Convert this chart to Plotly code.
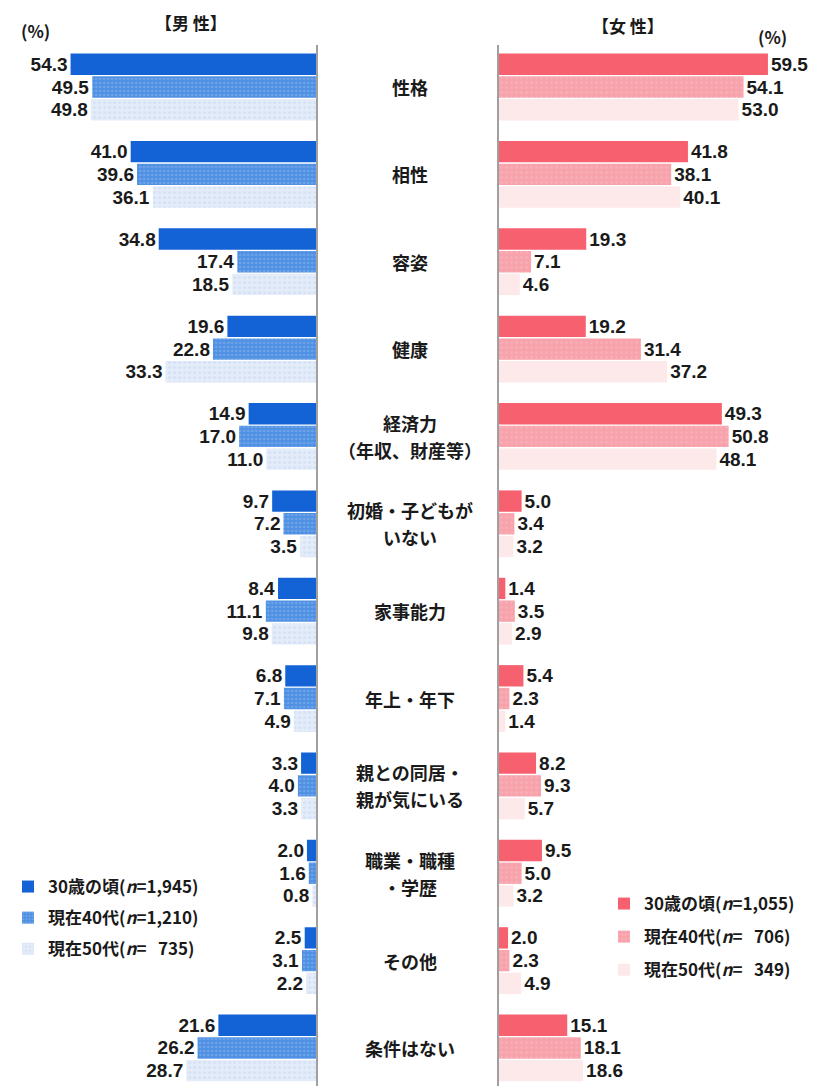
import plotly.graph_objects as go

categories = ["性格", "相性", "容姿", "健康", "経済力<br>（年収、財産等）",
              "初婚・子どもが<br>いない", "家事能力", "年上・年下",
              "親との同居・<br>親が気にいる", "職業・職種<br>・学歴", "その他", "条件はない"]

men_30 = [54.3, 41.0, 34.8, 19.6, 14.9, 9.7, 8.4, 6.8, 3.3, 2.0, 2.5, 21.6]
men_40 = [49.5, 39.6, 17.4, 22.8, 17.0, 7.2, 11.1, 7.1, 4.0, 1.6, 3.1, 26.2]
men_50 = [49.8, 36.1, 18.5, 33.3, 11.0, 3.5, 9.8, 4.9, 3.3, 0.8, 2.2, 28.7]

women_30 = [59.5, 41.8, 19.3, 19.2, 49.3, 5.0, 1.4, 5.4, 8.2, 9.5, 2.0, 15.1]
women_40 = [54.1, 38.1, 7.1, 31.4, 50.8, 3.4, 3.5, 2.3, 9.3, 5.0, 2.3, 18.1]
women_50 = [53.0, 40.1, 4.6, 37.2, 48.1, 3.2, 2.9, 1.4, 5.7, 3.2, 4.9, 18.6]

men_names = ["30歳の頃(<i>n</i>=1,945)", "現在40代(<i>n</i>=1,210)", "現在50代(<i>n</i>=   735)"]
women_names = ["30歳の頃(<i>n</i>=1,055)", "現在40代(<i>n</i>=   706)", "現在50代(<i>n</i>=   349)"]

FONT = "Noto Sans CJK JP, Liberation Sans, sans-serif"
NUMFONT = "Liberation Sans, Arial, sans-serif"
OFF = 8  # default page body margin
W, H = 825 - OFF, 1086 - OFF


def px(x):
    return (x - OFF) / W


def py(y):
    return 1 - (y - OFF) / H


men_styles = [
    dict(color="#1463d6"),
    dict(color="#4f90e2", pattern=dict(shape=".", size=4, solidity=0.35, fgcolor="#8db6ee", fillmode="overlay")),
    dict(color="#e4ecf9", pattern=dict(shape=".", size=5, solidity=0.3, fgcolor="#c5d6ef", fillmode="overlay")),
]
women_styles = [
    dict(color="#f6606f"),
    dict(color="#f8a2ac", pattern=dict(shape=".", size=5, solidity=0.25, fgcolor="#f6b9c0", fillmode="overlay")),
    dict(color="#fde8ea"),
]

fig = go.Figure()
for vals, name, st in zip([men_30, men_40, men_50], men_names, men_styles):
    fig.add_trace(go.Bar(
        y=categories, x=vals, orientation="h", name=name,
        xaxis="x", yaxis="y", marker=dict(line=dict(width=0), **st),
        texttemplate="<b>%{x:.1f}</b>", textposition="outside",
        textfont=dict(size=19, color="#1a1a1a", family=NUMFONT),
        cliponaxis=False, legend="legend", legendgroup=name,
    ))
for vals, name, st in zip([women_30, women_40, women_50], women_names, women_styles):
    fig.add_trace(go.Bar(
        y=categories, x=vals, orientation="h", name=name,
        xaxis="x2", yaxis="y2", marker=dict(line=dict(width=0), **st),
        texttemplate="<b>%{x:.1f}</b>", textposition="outside",
        textfont=dict(size=19, color="#1a1a1a", family=NUMFONT),
        cliponaxis=False, legend="legend2", legendgroup=name,
    ))

# scale: ~4.52 px per percent; men axis zero at x=316, women at x=499 (screen px)
R = 65
px_per = 4.52
men_dom = [px(316 - R * px_per), px(316)]
wom_dom = [px(499), px(499 + R * px_per)]

top_px = 45 - OFF
pxu = 87.36
first_c = 87 - OFF
yr = [(H - first_c) / pxu, -(first_c - top_px) / pxu]
ydom = [0, 1 - top_px / H]

fig.update_layout(
    width=W, height=H,
    margin=dict(l=0, r=0, t=0, b=0),
    paper_bgcolor="white", plot_bgcolor="white",
    barmode="group", bargap=0.22, bargroupgap=0.06,
    font=dict(family=FONT, color="#1a1a1a"),
    xaxis=dict(domain=men_dom, range=[R, 0], visible=False, fixedrange=True),
    xaxis2=dict(domain=wom_dom, range=[0, R], visible=False, fixedrange=True),
    yaxis=dict(domain=ydom, range=yr, anchor="x", side="right", showticklabels=False,
               showgrid=False, zeroline=False, ticks="", showline=True,
               linecolor="#a0a0a0", linewidth=2, type="category"),
    yaxis2=dict(domain=ydom, range=yr, anchor="x2", side="left", showticklabels=False,
                showgrid=False, zeroline=False, ticks="", showline=True,
                linecolor="#a0a0a0", linewidth=2, type="category"),
    legend=dict(x=0.0, y=py(869), xanchor="left", yanchor="top",
                font=dict(size=17, family=FONT, weight="bold"), tracegroupgap=6,
                bgcolor="rgba(0,0,0,0)", itemwidth=30),
    legend2=dict(x=px(604), y=py(886), xanchor="left", yanchor="top",
                 font=dict(size=17, family=FONT, weight="bold"), tracegroupgap=8,
                 bgcolor="rgba(0,0,0,0)", itemwidth=30),
    showlegend=True,
)

# category labels between the two panels (each line placed separately)
LINE = 27
for c in categories:
    lines = c.split("<br>")
    n = len(lines)
    for i, ln in enumerate(lines):
        fig.add_annotation(x=px(410), xref="paper", y=c, yref="y", text="<b>" + ln + "</b>",
                           showarrow=False, xanchor="center", yanchor="middle",
                           yshift=(n - 1) / 2 * LINE - i * LINE,
                           font=dict(size=18, family=FONT, color="#1a1a1a"))

titles = [("<b>(%)</b>", 35, 31), ("<b>【男 性】</b>", 191, 22),
          ("<b>【女 性】</b>", 628, 26), ("<b>(%)</b>", 772, 37)]
for t, xp, yp in titles:
    fig.add_annotation(x=px(xp), y=py(yp), xref="paper", yref="paper", text=t,
                       showarrow=False, xanchor="center", yanchor="middle",
                       font=dict(size=17, family=FONT, color="#1a1a1a"))

fig.write_html("out.html")
